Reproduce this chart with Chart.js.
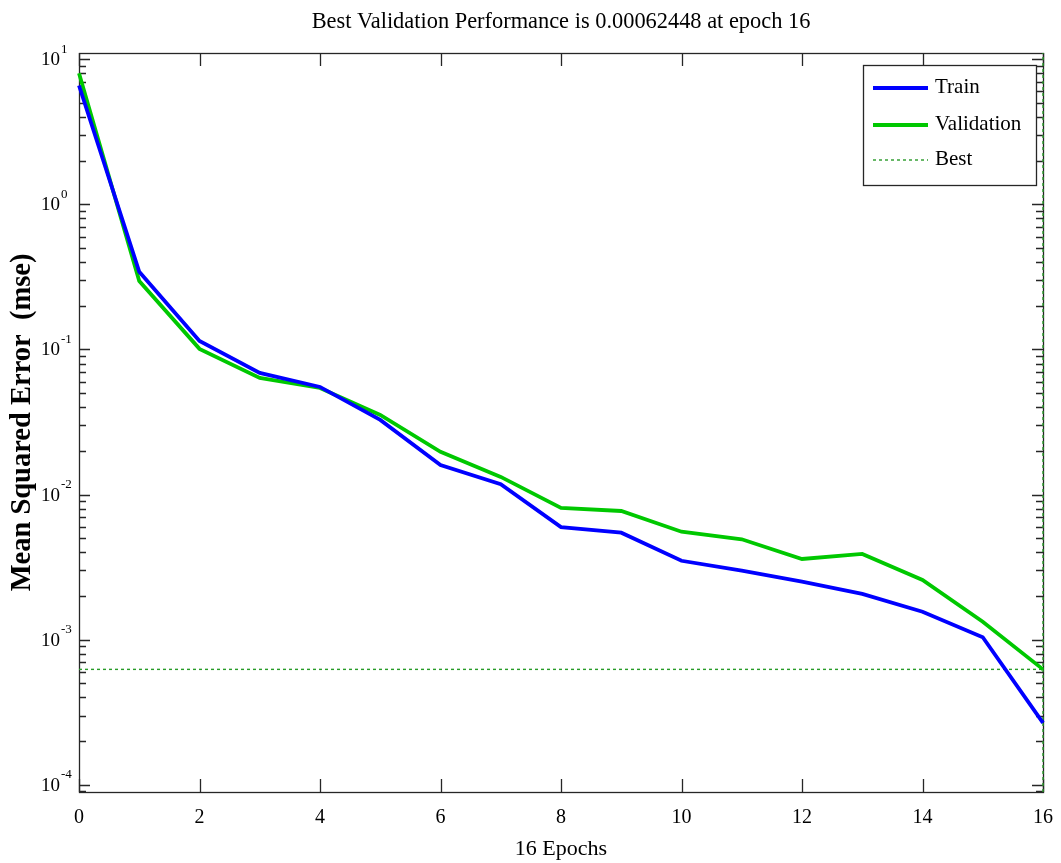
<!DOCTYPE html>
<html>
<head>
<meta charset="utf-8">
<script src="https://cdn.jsdelivr.net/npm/chart.js@4"></script>
<style>
  html, body { margin: 0; padding: 0; background: #ffffff; }
  #wrap { position: relative; width: 1061px; height: 863px; }
</style>
</head>
<body>
<div id="wrap"><canvas id="c" width="1061" height="863"></canvas></div>
<script>
// ---- data ----
const epochs = [0, 1, 2, 3, 4, 5, 6, 7, 8, 9, 10, 11, 12, 13, 14, 15, 16];
const trainMSE = [6.6, 0.343, 0.1146, 0.0689, 0.0552, 0.0327, 0.0160, 0.0118, 0.00597, 0.00546, 0.00350, 0.00299, 0.00251, 0.00207, 0.00156, 0.00104, 0.000267];
const validationMSE = [8.0, 0.296, 0.101, 0.0637, 0.0543, 0.0354, 0.0197, 0.01324, 0.00809, 0.00771, 0.00555, 0.00492, 0.00360, 0.00390, 0.00258, 0.00133, 0.00062448];
const bestEpoch = 16;
const bestPerf = 0.00062448;
const xTickValues = [0, 2, 4, 6, 8, 10, 12, 14, 16];
const yTickExponents = [-4, -3, -2, -1, 0, 1];
const yMin = Math.pow(10, -4.0496);
const yMax = Math.pow(10, 1.0434);
const titleText = 'Best Validation Performance is ' + bestPerf + ' at epoch ' + bestEpoch;
const xTitle = bestEpoch + ' Epochs';
const yTitle = 'Mean Squared Error  (mse)';

const SERIF = "'Liberation Serif', 'Times New Roman', serif";
const BEST_COLOR = 'rgb(40,155,40)';

const toXY = (ys) => epochs.map((e, i) => ({ x: e, y: ys[i] }));

// axes box, inward ticks, y tick labels (10^k), and legend
const matlabAxes = {
  id: 'matlabAxes',
  afterLayout(chart) {
    // centre the title over the plot area (as MATLAB does)
    const t = chart.titleBlock;
    if (t) {
      t.left = chart.chartArea.left;
      t.right = chart.chartArea.right;
      t.width = t.right - t.left;
    }
  },
  beforeDatasetsDraw(chart) {
    const { ctx, chartArea: a, scales: { x, y } } = chart;
    ctx.save();
    ctx.strokeStyle = '#262626';
    ctx.lineWidth = 1.3;
    ctx.beginPath();
    // x ticks top and bottom (inward)
    xTickValues.forEach(v => {
      const px = Math.round(x.getPixelForValue(v)) + 0.5;
      ctx.moveTo(px, a.bottom); ctx.lineTo(px, a.bottom - 13);
      ctx.moveTo(px, a.top); ctx.lineTo(px, a.top + 13);
    });
    // y ticks left and right (inward), majors and minors
    for (let k = yTickExponents[0] - 1; k <= yTickExponents[yTickExponents.length - 1]; k++) {
      for (let m = 1; m <= 9; m++) {
        const v = m * Math.pow(10, k);
        if (v < y.min || v > y.max) continue;
        const py = Math.round(y.getPixelForValue(v)) + 0.5;
        const len = m === 1 ? 11 : 7;
        ctx.moveTo(a.left, py); ctx.lineTo(a.left + len, py);
        ctx.moveTo(a.right, py); ctx.lineTo(a.right - len, py);
      }
    }
    ctx.stroke();
    ctx.strokeRect(Math.round(a.left) + 0.5, Math.round(a.top) + 0.5, Math.round(a.right - a.left), Math.round(a.bottom - a.top));
    // y tick labels
    ctx.fillStyle = '#000';
    yTickExponents.forEach(k => {
      const py = y.getPixelForValue(Math.pow(10, k));
      ctx.font = '19px ' + SERIF;
      ctx.textAlign = 'right';
      ctx.textBaseline = 'middle';
      ctx.fillText('10', a.left - 19, py + 1);
      ctx.font = '13px ' + SERIF;
      ctx.textAlign = 'left';
      ctx.fillText(String(k), a.left - 18, py - 10);
    });
    ctx.restore();
  },
  afterDraw(chart) {
    const { ctx } = chart;
    const items = chart.data.datasets.filter(d => d.inLegend);
    const box = { left: 863, top: 65, right: 1036, bottom: 185 };
    ctx.save();
    ctx.fillStyle = '#fff';
    ctx.fillRect(box.left, box.top, box.right - box.left, box.bottom - box.top);
    ctx.strokeStyle = '#262626';
    ctx.lineWidth = 1.3;
    ctx.strokeRect(box.left + 0.5, box.top + 0.5, box.right - box.left, box.bottom - box.top);
    const rowY = [88, 125, 160];
    items.forEach((d, i) => {
      const yy = rowY[i];
      ctx.beginPath();
      ctx.strokeStyle = d.borderColor;
      ctx.lineWidth = d.borderWidth;
      ctx.setLineDash(d.borderDash || []);
      ctx.moveTo(873, yy); ctx.lineTo(928, yy);
      ctx.stroke();
      ctx.setLineDash([]);
      ctx.fillStyle = '#000';
      ctx.font = '21px ' + SERIF;
      ctx.textAlign = 'left';
      ctx.textBaseline = 'middle';
      ctx.fillText(d.label, 935, yy - 1);
    });
    ctx.restore();
  }
};

new Chart(document.getElementById('c'), {
  type: 'line',
  data: {
    datasets: [
      { label: 'Train', inLegend: true, data: toXY(trainMSE), borderColor: '#0000ff', borderWidth: 3.8, pointRadius: 0, tension: 0, clip: 3 },
      { label: 'Validation', inLegend: true, data: toXY(validationMSE), borderColor: '#00c800', borderWidth: 3.8, pointRadius: 0, tension: 0, clip: 3 },
      { label: 'Best', inLegend: true, data: [{ x: epochs[0], y: bestPerf }, { x: epochs[epochs.length - 1], y: bestPerf }], borderColor: BEST_COLOR, borderWidth: 1.4, borderDash: [3, 3], pointRadius: 0, clip: 3 },
      { label: 'Best epoch', inLegend: false, data: [{ x: bestEpoch, y: yMin }, { x: bestEpoch, y: yMax }], borderColor: BEST_COLOR, borderWidth: 1.4, borderDash: [3, 3], pointRadius: 0, clip: 3 }
    ]
  },
  options: {
    responsive: false,
    animation: false,
    events: [],
    layout: { padding: { left: 0, right: 18, top: 0, bottom: 0 } },
    plugins: {
      legend: { display: false },
      tooltip: { enabled: false },
      title: {
        display: true,
        text: titleText,
        color: '#000',
        font: { family: SERIF, size: 22.4, weight: 'normal', lineHeight: 1.2 },
        padding: { top: 8.5, bottom: 17.6 }
      }
    },
    scales: {
      x: {
        type: 'linear',
        min: 0,
        max: 16,
        grid: { display: false },
        border: { display: false },
        afterBuildTicks: (s) => { s.ticks = xTickValues.map(v => ({ value: v })); },
        ticks: { color: '#000', font: { family: SERIF, size: 20 }, padding: 6, maxRotation: 0, autoSkip: false },
        title: { display: true, text: xTitle, color: '#000', font: { family: SERIF, size: 22 }, padding: { top: 0, bottom: 1 } },
        afterFit: (s) => { s.height = 71; s.paddingLeft = 0; s.paddingRight = 0; }
      },
      y: {
        type: 'logarithmic',
        min: yMin,
        max: yMax,
        grid: { display: false },
        border: { display: false },
        ticks: { display: false },
        title: { display: true, text: yTitle, color: '#000', font: { family: SERIF, size: 28.5, weight: 'bold' }, padding: { top: 6, bottom: 0 } },
        afterFit: (s) => { s.width = 79; s.paddingTop = 0; s.paddingBottom = 0; }
      }
    }
  },
  plugins: [matlabAxes]
});
</script>
</body>
</html>
